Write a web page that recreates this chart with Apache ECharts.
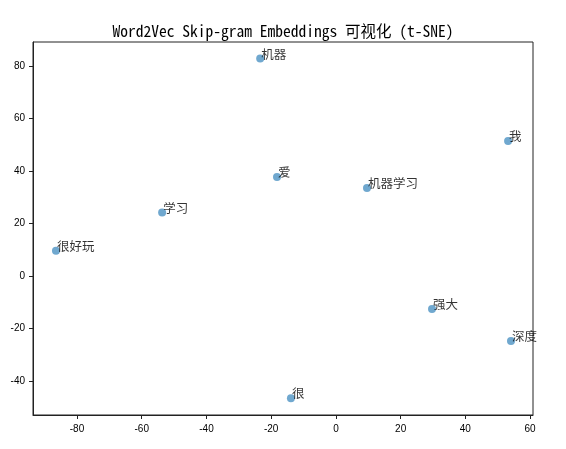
<!DOCTYPE html>
<html>
<head>
<meta charset="utf-8">
<script src="https://cdn.jsdelivr.net/npm/echarts@6/dist/echarts.min.js"></script>
<style>
  html, body { margin: 0; padding: 0; background: #fff; }
  #chart { width: 566px; height: 449px; }
</style>
</head>
<body>
<div id="chart"></div>
<script>
// 词向量 t-SNE 坐标
var words = ['机器', '爱', '机器学习', '我', '强大', '深度', '学习', '很好玩', '很']
var xValues = [-23.4, -18.2, 9.6, 53.2, 29.7, 54.1, -53.7, -86.5, -13.9]
var yValues = [82.8, 37.7, 33.5, 51.4, -12.6, -24.8, 24.1, 9.6, -46.6]
var xTicks = [-80, -60, -40, -20, 0, 20, 40, 60]
var yTicks = [-40, -20, 0, 20, 40, 60, 80]

var font = "'Noto Sans Mono CJK SC', 'Noto Sans CJK SC', 'DejaVu Sans Mono', monospace"
var tickFont = "'Liberation Sans', Arial, sans-serif"

var points = words.map(function (w, i) {
  return [xValues[i], yValues[i], w]
})

var myChart = echarts.init(document.getElementById('chart'))

var tickLabelStyle = {
  color: '#000',
  fontFamily: tickFont,
  fontSize: 10
}

var option = {
  animation: false,
  title: {
    text: 'Word2Vec Skip-gram Embeddings 可视化 (t-SNE)',
    left: 'center',
    top: 18,
    textStyle: {
      color: '#000',
      fontFamily: font,
      fontSize: 15.5,
      fontWeight: 'normal'
    }
  },
  grid: {
    left: 33,
    top: 42,
    width: 500,
    height: 373,
    show: true,
    borderColor: '#222',
    borderWidth: 1
  },
  xAxis: {
    type: 'value',
    min: -93.6,
    max: 60.9,
    axisLine: { show: true, onZero: false, lineStyle: { color: '#222', width: 1 } },
    axisTick: {
      show: true,
      length: 4,
      customValues: xTicks,
      lineStyle: { color: '#222' }
    },
    axisLabel: Object.assign({ customValues: xTicks, margin: 9 }, tickLabelStyle),
    splitLine: { show: false }
  },
  yAxis: {
    type: 'value',
    min: -53,
    max: 89.1,
    axisLine: { show: true, onZero: false, lineStyle: { color: '#222', width: 1 } },
    axisTick: {
      show: true,
      length: 4,
      customValues: yTicks,
      lineStyle: { color: '#222' }
    },
    axisLabel: Object.assign({ customValues: yTicks, margin: 8 }, tickLabelStyle),
    splitLine: { show: false }
  },
  series: [
    {
      type: 'scatter',
      symbol: 'circle',
      symbolSize: 8,
      data: points,
      itemStyle: {
        color: 'rgba(31, 119, 180, 0.8)'
      },
      label: {
        show: true,
        position: [5, -7],
        align: 'left',
        verticalAlign: 'top',
        formatter: function (p) {
          return p.data[2]
        },
        color: '#000',
        fontFamily: font,
        fontSize: 12.5
      }
    }
  ]
}

myChart.setOption(option)
</script>
</body>
</html>
